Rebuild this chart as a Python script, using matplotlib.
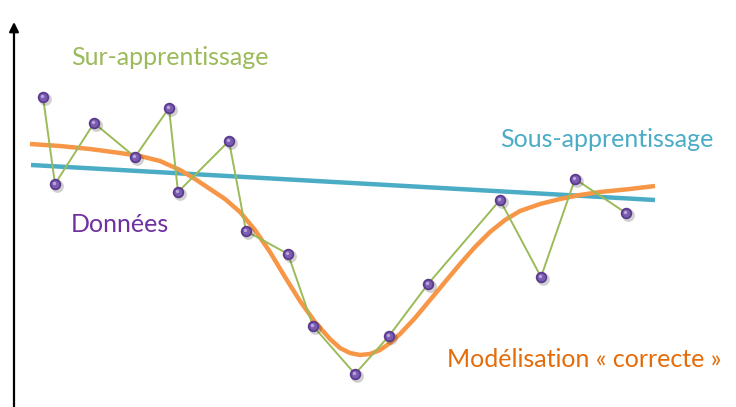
import matplotlib.pyplot as plt

# noisy observations (x, y in screen units, y grows downward)
data_x = [43, 55, 94, 135, 169, 178, 229, 246, 288, 313, 355, 389, 428, 500, 541, 575, 626]
data_y = [97, 184, 123, 157, 108, 192, 141, 231, 254, 326, 374, 336, 284, 200, 277, 179, 213]

# underfit model: a straight line
under_x = [31, 655]
under_y = [165, 200]

# good fit: smooth curve through the trend
good_x = [30, 60, 90, 120, 140, 160, 180, 195, 210, 225, 240, 255, 270, 285, 300,
          315, 330, 340, 350, 360, 370, 380, 390, 400, 415, 430, 445, 460, 475, 490,
          505, 520, 540, 560, 580, 600, 630, 655]
good_y = [144, 146, 149, 153, 156, 161, 170, 179, 189, 199, 212, 230, 252, 277, 301,
          322, 339, 348, 353, 355, 354, 350, 343, 334, 318, 300, 282, 264, 247, 232,
          220, 211, 204, 199, 195, 192, 189, 186]

GREEN = "#9bbb59"
BLUE = "#4bacc6"
ORANGE = "#f79646"
ORANGE_TXT = "#e46c0a"
PURPLE_TXT = "#7030a0"


def main():
  plt.rcParams["font.family"] = ["Lato", "DejaVu Sans"]
  fig = plt.figure(figsize=(7.36, 4.07), dpi=100)
  ax = fig.add_axes([0, 0, 1, 1])
  ax.set_xlim(0, 736)
  ax.set_ylim(407, 0)
  ax.set_axis_off()

  # vertical axis with arrow head
  ax.annotate("", xy=(14, 22), xytext=(14, 407),
              arrowprops=dict(arrowstyle="-|>", color="black", lw=1.6,
                              mutation_scale=14, shrinkA=0, shrinkB=0))

  ax.plot(under_x, under_y, color=BLUE, lw=3.2, solid_capstyle="butt", zorder=2)
  ax.plot(good_x, good_y, color=ORANGE, lw=3.2, solid_joinstyle="round",
          solid_capstyle="butt", zorder=3)
  ax.plot(data_x, data_y, color=GREEN, lw=1.4, zorder=4)

  # little shaded spheres for the data points
  ax.scatter([x + 1.5 for x in data_x], [y + 2 for y in data_y], s=85,
             color="#000000", alpha=0.18, lw=0, zorder=5)
  ax.scatter(data_x, data_y, s=68, color="#5a3a8c", lw=0, zorder=6)
  ax.scatter(data_x, data_y, s=32, color="#7a5cb0", lw=0, zorder=7)
  ax.scatter([x - 1 for x in data_x], [y - 1.5 for y in data_y], s=6,
             color="#b9a6dc", lw=0, zorder=8)

  ax.text(71, 65, "Sur-apprentissage", color=GREEN, fontsize=18, va="baseline")
  ax.text(500, 147, "Sous-apprentissage", color=BLUE, fontsize=18, va="baseline")
  ax.text(71, 232, "Données", color=PURPLE_TXT, fontsize=18, va="baseline")
  ax.text(447, 367, "Modélisation « correcte »", color=ORANGE_TXT, fontsize=18,
          va="baseline")

  fig.savefig("out.png", dpi=100)


if __name__ == '__main__':
  main()
